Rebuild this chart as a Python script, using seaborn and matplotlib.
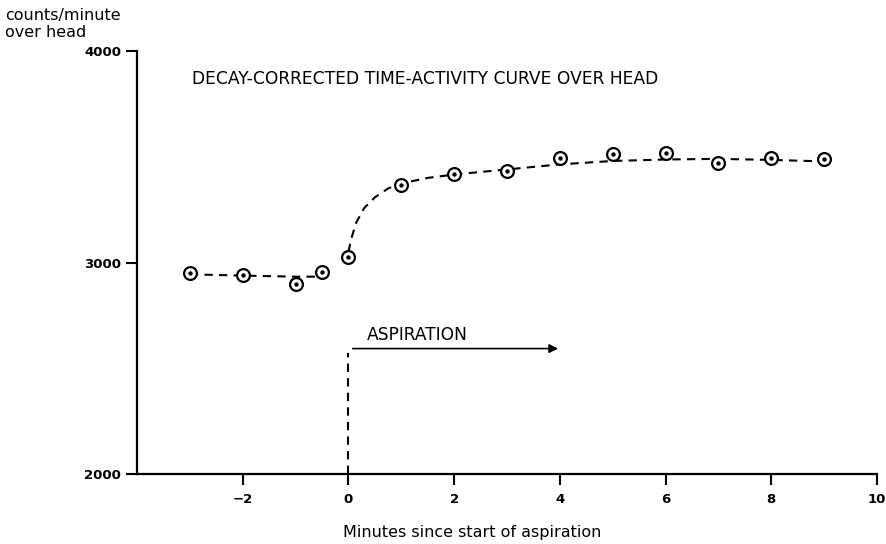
import matplotlib
matplotlib.use("Agg")
import matplotlib.pyplot as plt
import seaborn as sns
import pandas as pd

# Measured points
minutes = [-3, -2, -1, -0.5, 0, 1, 2, 3, 4, 5, 6, 7, 8, 9]
counts = [2952, 2939, 2896, 2953, 3024, 3367, 3420, 3434, 3494, 3513, 3518, 3470, 3494, 3487]

# Dashed fitted curve
pre_x = [-3, -2, -1, -0.5]
pre_y = [2944, 2938, 2933, 2933]
post_x = [0, 0.05, 0.15, 0.3, 0.5, 0.75, 1.0, 1.5, 2, 3, 4, 5, 6, 7, 8, 9]
post_y = [3050, 3110, 3190, 3258, 3308, 3350, 3374, 3400, 3416, 3440, 3464, 3480, 3487, 3490, 3485, 3478]

x_ticks = [-2, 0, 2, 4, 6, 8, 10]
x_tick_labels = ["\u22122", "0", "2", "4", "6", "8", "10"]
y_ticks = [2000, 3000, 4000]

sns.set_style("ticks")
plt.rcParams["font.family"] = ["DejaVu Sans"]
plt.rcParams["text.color"] = "black"
plt.rcParams["axes.edgecolor"] = "black"
plt.rcParams["xtick.color"] = "black"
plt.rcParams["ytick.color"] = "black"
plt.rcParams["xtick.labelcolor"] = "black"
plt.rcParams["ytick.labelcolor"] = "black"

fig = plt.figure(figsize=(8.86, 5.44), dpi=100)
ax = fig.add_axes([137 / 886, 1 - 474 / 544, (877 - 137) / 886, (474 - 51) / 544])

df_pts = pd.DataFrame({"m": minutes, "c": counts})
df_pre = pd.DataFrame({"m": pre_x, "c": pre_y})
df_post = pd.DataFrame({"m": post_x, "c": post_y})

sns.lineplot(data=df_pre, x="m", y="c", ax=ax, color="black", lw=1.5,
             linestyle=(0, (4, 3)), sort=False)
sns.lineplot(data=df_post, x="m", y="c", ax=ax, color="black", lw=1.5,
             linestyle=(0, (4, 3)), sort=False)
sns.scatterplot(data=df_pts, x="m", y="c", ax=ax, s=85, facecolor="white",
                edgecolor="black", linewidth=1.6, zorder=5)
sns.scatterplot(data=df_pts, x="m", y="c", ax=ax, s=10, color="black",
                linewidth=0, zorder=6)

# Aspiration marker
ax.plot([0, 0], [2000, 2570], color="black", lw=1.5, linestyle=(0, (4, 3)))
ax.annotate("", xy=(4.02, 2593), xytext=(0.03, 2593),
            arrowprops=dict(arrowstyle="-|>", color="black", lw=1.2,
                            mutation_scale=13))
ax.text(0.34, 2657, "ASPIRATION", fontsize=12.3, ha="left", va="center")
ax.text(-2.96, 3866, "DECAY-CORRECTED TIME-ACTIVITY CURVE OVER HEAD",
        fontsize=12.3, ha="left", va="center")

ax.set_xlim(-4, 10)
ax.set_ylim(2000, 4000)
ax.set_xticks(x_ticks)
ax.set_yticks(y_ticks)
ax.set_xticklabels(x_tick_labels)
ax.tick_params(axis="both", labelsize=9.5, width=1.5, length=8, direction="out",
               colors="black")
ax.tick_params(axis="x", pad=6)
for lab in ax.get_xticklabels() + ax.get_yticklabels():
    lab.set_fontweight("bold")
ax.set_xlabel("")
ax.set_ylabel("")
sns.despine(ax=ax)
for sp in ["left", "bottom"]:
    ax.spines[sp].set_linewidth(1.6)
    ax.spines[sp].set_color("black")

fig.text(472 / 886, 1 - 533 / 544, "Minutes since start of aspiration",
         fontsize=11.5, ha="center", va="center")
fig.text(5 / 886, 1 - 24 / 544, "counts/minute\nover head", fontsize=11.5,
         ha="left", va="center", linespacing=1.1)

fig.savefig("out.png", dpi=100)
